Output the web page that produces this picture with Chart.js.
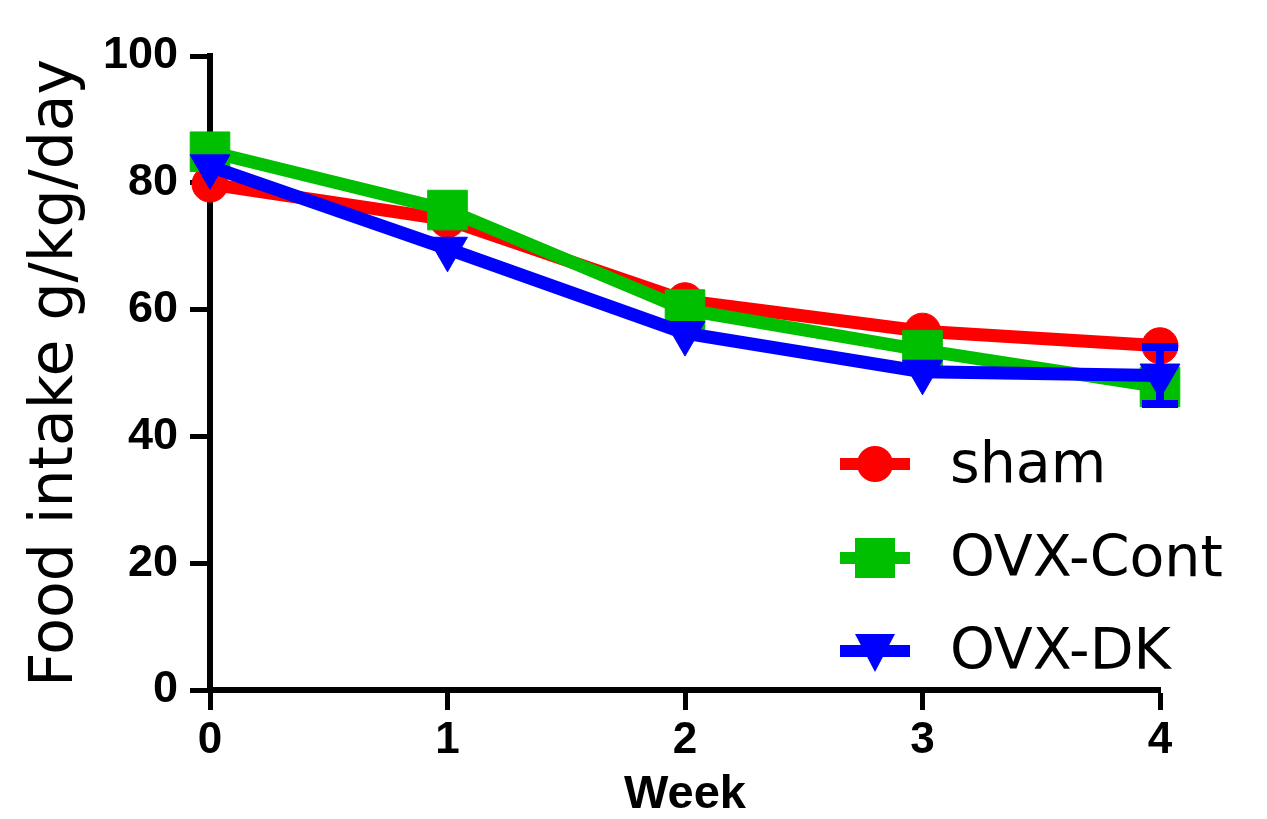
<!DOCTYPE html>
<html>
<head>
<meta charset="utf-8">
<script src="https://cdn.jsdelivr.net/npm/chart.js@4.4.0/dist/chart.umd.min.js"></script>
<style>
  body { margin: 0; background: #fff; }
  #wrap { width: 1267px; height: 819px; }
</style>
</head>
<body>
<div id="wrap"><canvas id="food" width="1267" height="819"></canvas></div>
<script>
// values (g/kg/day)
var weeks = ['0', '1', '2', '3', '4'];
var sham = [79.8, 74.2, 61.4, 56.6, 54.3];
var ovxCont = [84.9, 75.7, 60.0, 53.6, 47.8];
var ovxDK = [82.6, 69.6, 56.3, 50.2, 49.6];
var ovxDKErr = [0, 0, 0, 0, 4.5];
var yTicks = [0, 20, 40, 60, 80, 100];

var RED = '#FF0000', GREEN = '#00BF00', BLUE = '#0000FF';

// error bars for any dataset carrying an `err` array
var errorBars = {
  id: 'errorBars',
  afterDatasetsDraw: function(chart) {
    var ctx = chart.ctx, xs = chart.scales.x, ys = chart.scales.y;
    chart.data.datasets.forEach(function(ds) {
      if (!ds.err) return;
      ds.err.forEach(function(e, i) {
        if (!e) return;
        var px = xs.getPixelForValue(i);
        var top = ys.getPixelForValue(ds.data[i] + e);
        var bot = ys.getPixelForValue(ds.data[i] - e);
        ctx.save();
        ctx.strokeStyle = ds.borderColor;
        ctx.lineWidth = 8;
        ctx.beginPath();
        ctx.moveTo(px, top); ctx.lineTo(px, bot);
        ctx.moveTo(px - 18, top); ctx.lineTo(px + 18, top);
        ctx.moveTo(px - 18, bot); ctx.lineTo(px + 18, bot);
        ctx.stroke();
        ctx.restore();
      });
    });
  }
};

function drawMarker(ctx, style, x, y, color) {
  ctx.fillStyle = color;
  ctx.beginPath();
  if (style === 'circle') {
    ctx.arc(x, y, 18, 0, Math.PI * 2);
  } else if (style === 'rect') {
    ctx.rect(x - 20, y - 20, 40, 40);
  } else {
    ctx.moveTo(x - 20, y - 17);
    ctx.lineTo(x + 20, y - 17);
    ctx.lineTo(x, y + 21);
    ctx.closePath();
  }
  ctx.fill();
}

// legend sitting inside the plot, bottom right
var insideLegend = {
  id: 'insideLegend',
  afterDraw: function(chart) {
    var ctx = chart.ctx;
    var rows = [464, 558, 651];
    ctx.save();
    chart.data.datasets.forEach(function(ds, i) {
      var y = rows[i];
      ctx.strokeStyle = ds.borderColor;
      ctx.lineWidth = 12;
      ctx.beginPath();
      ctx.moveTo(840, y); ctx.lineTo(910, y);
      ctx.stroke();
      drawMarker(ctx, ds.pointStyle, 875, y, ds.borderColor);
      ctx.fillStyle = '#000';
      ctx.font = '57px "DejaVu Sans"';
      ctx.textBaseline = 'middle';
      ctx.textAlign = 'left';
      ctx.fillText(ds.label, 950, y + 3);
    });
    ctx.restore();
  }
};

var ctx = document.getElementById('food');
var myChart = new Chart(ctx, {
  type: 'line',
  data: {
    labels: weeks,
    datasets: [{
      label: 'sham',
      data: sham,
      borderColor: RED,
      backgroundColor: RED,
      borderWidth: 13,
      pointStyle: 'circle',
      pointRadius: 18,
      pointBorderWidth: 1,
      order: 3
    }, {
      label: 'OVX-Cont',
      data: ovxCont,
      borderColor: GREEN,
      backgroundColor: GREEN,
      borderWidth: 13,
      pointStyle: 'rect',
      pointRadius: 28,
      pointBorderWidth: 1,
      order: 2
    }, {
      label: 'OVX-DK',
      data: ovxDK,
      err: ovxDKErr,
      borderColor: BLUE,
      backgroundColor: BLUE,
      borderWidth: 13,
      pointStyle: 'triangle',
      pointRotation: 180,
      pointRadius: 23,
      pointBorderWidth: 1,
      order: 1
    }]
  },
  options: {
    responsive: false,
    animation: false,
    clip: false,
    layout: { padding: { top: 56, right: 107, left: 0, bottom: 0 } },
    plugins: {
      legend: { display: false },
      tooltip: { enabled: false }
    },
    scales: {
      x: {
        offset: false,
        grid: { drawOnChartArea: false, drawTicks: true, tickLength: 20, tickWidth: 5, tickColor: '#000' },
        border: { display: true, width: 6, color: '#000' },
        ticks: {
          color: '#000', padding: 4, maxRotation: 0,
          font: { family: '"Liberation Sans"', size: 44, weight: 'bold' }
        },
        title: {
          display: true, text: 'Week', color: '#000',
          font: { family: '"Liberation Sans"', size: 47, weight: 'bold', lineHeight: 1 },
          padding: { top: 0, bottom: 0 }
        },
        afterFit: function(scale) { scale.height = 129; }
      },
      y: {
        min: 0, max: 100,
        afterBuildTicks: function(scale) {
          scale.ticks = yTicks.map(function(v) { return { value: v }; });
        },
        grid: { drawOnChartArea: false, drawTicks: true, tickLength: 20, tickWidth: 5, tickColor: '#000' },
        border: { display: true, width: 6, color: '#000' },
        ticks: {
          color: '#000', padding: 12,
          font: { family: '"Liberation Sans"', size: 45, weight: 'bold' }
        },
        title: {
          display: true, text: 'Food intake g/kg/day', color: '#000',
          font: { family: '"DejaVu Sans"', size: 60, lineHeight: 1 },
          padding: { top: 26, bottom: 0 }
        },
        afterFit: function(scale) { scale.width = 210; }
      }
    }
  },
  plugins: [errorBars, insideLegend]
});
</script>
</body>
</html>
